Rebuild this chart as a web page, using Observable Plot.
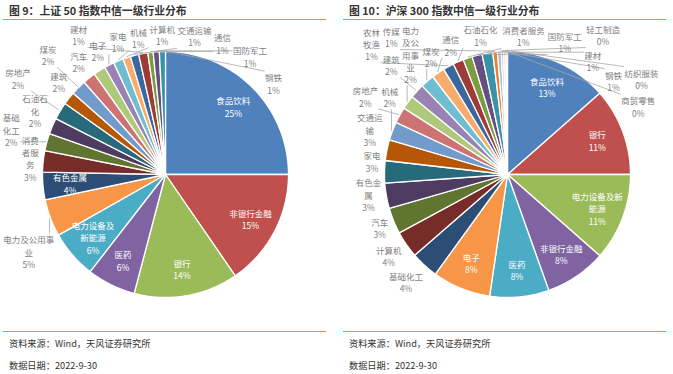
<!DOCTYPE html>
<html><head><meta charset="utf-8">
<script src="https://cdn.jsdelivr.net/npm/d3@7"></script>
<script src="https://cdn.jsdelivr.net/npm/@observablehq/plot@0.6"></script>
<style>
html,body{margin:0;padding:0;background:#fff;}
#wrap{position:relative;width:673px;height:374px;overflow:hidden;font-family:"Noto Sans CJK SC",sans-serif;}
.panel{position:absolute;top:0;width:333px;height:374px;}
.title{position:absolute;left:9px;top:3px;font-size:10.8px;line-height:14px;font-weight:bold;color:#333;white-space:nowrap;}
.rule{position:absolute;left:3px;width:323px;height:1px;background:#E98B3F;}
.foot{position:absolute;left:9px;font-size:9.2px;line-height:12px;color:#333;white-space:nowrap;}
.chart{position:absolute;left:0;top:21px;}
</style></head>
<body><div id="wrap"></div>
<script>
// ---- data ----
const leftTitle = "图 9：上证 50 指数中信一级行业分布";
const rightTitle = "图 10：沪深 300 指数中信一级行业分布";
const sourceText = "资料来源：Wind，天风证券研究所";
const dateText = "数据日期：2022-9-30";

const leftNames = ["食品饮料","非银行金融","银行","医药","电力设备及新能源","电力及公用事业","有色金属","消费者服务","基础化工","石油石化","房地产","建筑","煤炭","汽车","电子","家电","机械","计算机","交通运输","建材","通信","国防军工","钢铁"];
const leftValues = [25.0,15.4,13.7,6.4,6.3,4.9,3.6,2.8,2.3,2.1,2.3,1.7,2.0,1.7,1.6,1.3,1.3,1.0,1.1,1.2,0.7,0.8,0.8];

const rightNames = ["食品饮料","银行","电力设备及新能源","非银行金融","医药","电子","基础化工","计算机","汽车","有色金属","家电","交通运输","机械","房地产","电力及公用事业","建筑","煤炭","通信","农林牧渔","石油石化","消费者服务","国防军工","建材","传媒","钢铁","轻工制造","商贸零售","纺织服装"];
const rightValues = [13.4,11.4,11.4,8.0,7.7,7.6,3.6,3.5,3.4,3.3,2.9,2.7,2.4,2.1,1.8,1.9,1.8,1.7,1.4,1.4,1.2,1.3,1.4,0.6,0.5,0.3,0.3,0.2];

// ---- styles ----
const palette = ["#4F81BD","#C0504D","#9BBB59","#8064A2","#4BACC6","#F79646","#2C4D75","#772C2A","#5F7530","#4D3B62","#276A7C","#B65708","#729ACA","#CD7371","#AFC97A","#9983B5","#6FBDD1","#F9AB6B","#3A679C","#9E3B38","#7D9C3F","#654F82","#3892A8","#E9822E","#A7C0DE","#E6B9B8","#D7E4BD","#CCC1DA"];
const leftInside = new Set(["食品饮料","非银行金融","银行","医药","电力设备及新能源","有色金属"]);
const rightInside = new Set(["食品饮料","银行","电力设备及新能源","非银行金融","医药","电子"]);
const leftWrap = {"电力设备及新能源":5,"石油石化":3,"基础化工":2,"消费者服务":2,"电力及公用事业":6};
const rightWrap = {"电力设备及新能源":6,"农林牧渔":2,"电力及公用事业":2,"有色金属":3,"交通运输":3};

const FS = 8.5, LH = 1.45;
const canvas = document.createElement("canvas");
const ctx = canvas.getContext("2d");
ctx.font = `${FS}px "Noto Sans CJK SC"`;

function wrapName(name, n) {
  if (!n) return [name];
  const ch = [...name], out = [];
  for (let i = 0; i < ch.length; i += n) out.push(ch.slice(i, i + n).join(""));
  return out;
}
function rectDist(x, y, rc) {
  const dx = Math.max(rc[0] - x, 0, x - rc[2]);
  const dy = Math.max(rc[1] - y, 0, y - rc[3]);
  return Math.hypot(dx, dy);
}
function overlaps(a, b, pad) {
  return a[0] < b[2] + pad && b[0] < a[2] + pad && a[1] < b[3] + pad && b[1] < a[3] + pad;
}

function pieChart({names, values, inside, wrap, cx, cy, r, width, height}) {
  const arcs = d3.pie().sort(null).value(d => d)(values);
  const slices = [], insideLabels = [], outsideLabels = [], leaders = [];
  const placed = [];
  arcs.forEach((a, i) => {
    const n = Math.max(2, Math.ceil((a.endAngle - a.startAngle) / (Math.PI / 180)));
    slices.push({name: names[i], x: cx, y: cy, color: palette[i]});
    for (let k = 0; k <= n; k++) {
      const t = a.startAngle + (a.endAngle - a.startAngle) * k / n;
      slices.push({name: names[i], x: cx + r * Math.sin(t), y: cy - r * Math.cos(t), color: palette[i]});
    }
    slices.push({name: names[i], x: cx, y: cy, color: palette[i]});
  });
  arcs.forEach((a, i) => {
    const name = names[i];
    const lines = wrapName(name, wrap[name]);
    lines.push(Math.round(values[i]) + "%");
    const text = lines.join("\n");
    const mid = (a.startAngle + a.endAngle) / 2;
    if (inside.has(name)) {
      const rr = r * 0.78;
      insideLabels.push({x: cx + rr * Math.sin(mid), y: cy - rr * Math.cos(mid), text});
      return;
    }
    const w = d3.max(lines, l => ctx.measureText(l).width) + 1;
    const h = lines.length * FS * LH;
    let best = null, bestCost = Infinity;
    for (let dR = 0; dR <= 130; dR += 2) {
      for (let dt = -45; dt <= 80; dt += 1) {
        const R = r + 4 + dR;
        const cost = Math.abs(dt) * Math.PI / 180 * R + dR * 0.5;
        if (cost >= bestCost) continue;
        const t = mid + dt * Math.PI / 180;
        const ux = Math.sin(t), uy = -Math.cos(t);
        const bx = cx + R * ux + ux * w / 2, by = cy + R * uy + uy * h / 2;
        const rc = [bx - w / 2, by - h / 2, bx + w / 2, by + h / 2];
        if (rc[0] < 1 || rc[2] > width - 1 || rc[1] < 1 || rc[3] > height - 1) continue;
        if (rectDist(cx, cy, rc) < r + 2) continue;
        if (placed.some(p => overlaps(p, rc, 1))) continue;
        best = {bx, by, rc}; bestCost = cost;
      }
    }
    if (!best) return;
    placed.push(best.rc);
    outsideLabels.push({x: best.bx, y: best.by, text});
    const ex = cx + (r + 1) * Math.sin(mid), ey = cy - (r + 1) * Math.cos(mid);
    const qx = Math.max(best.rc[0], Math.min(ex, best.rc[2]));
    const qy = Math.max(best.rc[1], Math.min(ey, best.rc[3]));
    if (Math.hypot(qx - ex, qy - ey) > 7) leaders.push({x1: ex, y1: ey, x2: qx, y2: qy});
  });

  return Plot.plot({
    width, height, margin: 0,
    x: {domain: [0, width], range: [0, width], axis: null},
    y: {domain: [0, height], range: [0, height], axis: null},
    style: {fontFamily: '"Noto Sans CJK SC", sans-serif', background: "white", overflow: "visible"},
    marks: [
      Plot.line(slices, {x: "x", y: "y", z: "name", fill: "color", stroke: "white", strokeWidth: 1.3, strokeLinejoin: "round", curve: "linear"}),
      Plot.link(leaders, {x1: "x1", y1: "y1", x2: "x2", y2: "y2", stroke: "#a6a6a6", strokeWidth: 0.8}),
      Plot.text(insideLabels, {x: "x", y: "y", text: "text", fill: "white", fontSize: FS, lineHeight: LH, textAnchor: "middle"}),
      Plot.text(outsideLabels, {x: "x", y: "y", text: "text", fill: "#7f7f7f", fontSize: FS, lineHeight: LH, textAnchor: "middle"})
    ]
  });
}

function panel(left, title, chartOpts) {
  const p = document.createElement("div");
  p.className = "panel"; p.style.left = left + "px";
  p.innerHTML = `<div class="title">${title}</div>
    <div class="rule" style="top:19px"></div>
    <div class="rule" style="top:331px"></div>
    <div class="foot" style="top:337px">${sourceText}</div>
    <div class="foot" style="top:359px">${dateText}</div>`;
  const c = document.createElement("div");
  c.className = "chart";
  c.appendChild(pieChart(chartOpts));
  p.appendChild(c);
  document.getElementById("wrap").appendChild(p);
}

panel(0, leftTitle, {names: leftNames, values: leftValues, inside: leftInside, wrap: leftWrap, cx: 165, cy: 153, r: 123, width: 333, height: 309});
panel(340, rightTitle, {names: rightNames, values: rightValues, inside: rightInside, wrap: rightWrap, cx: 167, cy: 153, r: 123, width: 333, height: 309});
</script>
</body></html>
